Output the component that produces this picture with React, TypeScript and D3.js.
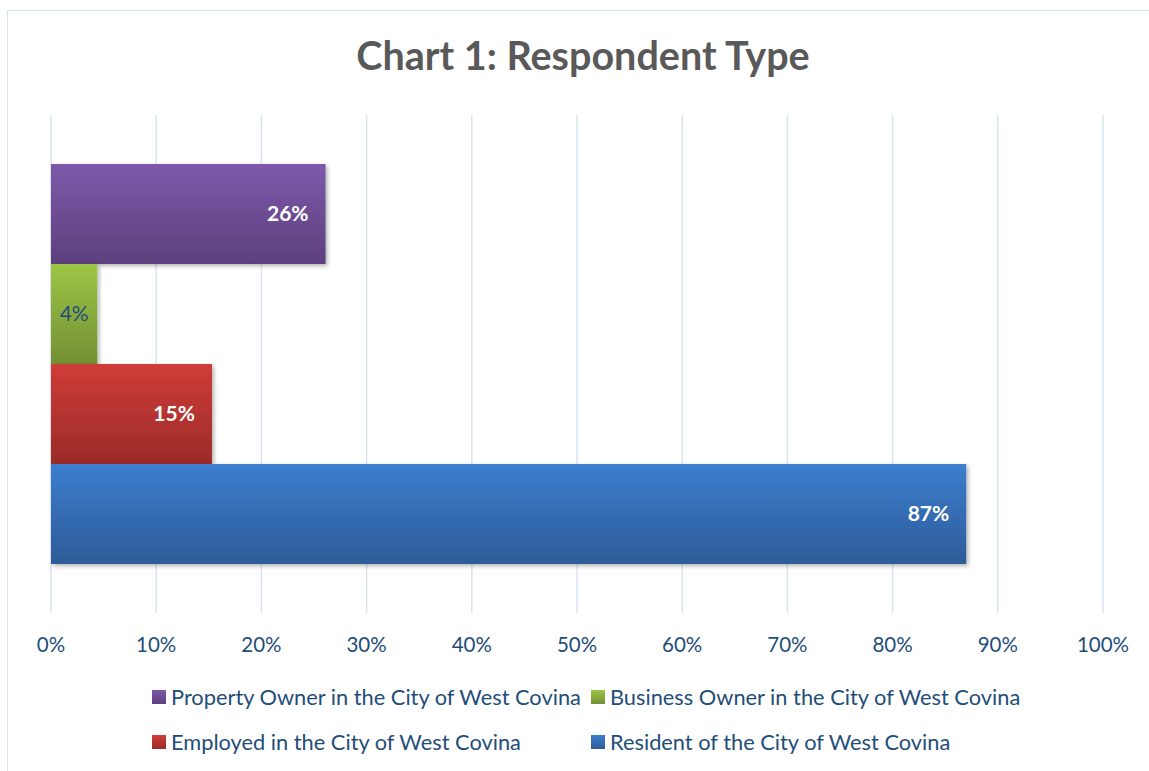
import * as React from "react";
import * as d3 from "d3";

const seriesNames = [
  "Property Owner in the City of West Covina",
  "Business Owner in the City of West Covina",
  "Employed in the City of West Covina",
  "Resident of the City of West Covina",
];
const seriesValues = [26.1, 4.4, 15.3, 87];
const seriesTop = ["#7E59AA", "#9DC646", "#D03C38", "#3C7ECE"];
const seriesBottom = ["#5D407E", "#738F34", "#9A2B28", "#2D5B98"];
const tickValues = [0, 10, 20, 30, 40, 50, 60, 70, 80, 90, 100];

const W = 1149;
const H = 771;
const font = "Lato, 'Open Sans', sans-serif";
const textBlue = "#1F4E79";

const App: React.FC = () => {
  const left = 51;
  const right = 1103;
  const top = 115;
  const bottom = 613;

  const x = d3.scaleLinear().domain([0, 100]).range([left, right]);
  // one category, series clustered inside it
  const group = d3.scaleBand().domain(["all"]).range([top, bottom]).paddingInner(0).paddingOuter(0.1225);
  const y = d3
    .scaleBand()
    .domain(seriesNames)
    .range([group("all")!, group("all")! + group.bandwidth()]);

  return (
    <svg width={W} height={H} style={{ position: "absolute", left: 0, top: 0 }}>
      <defs>
        {seriesNames.map((_, i) => (
          <linearGradient key={i} id={`g${i}`} x1="0" y1="0" x2="0" y2="1">
            <stop offset="0" stopColor={seriesTop[i]} />
            <stop offset="1" stopColor={seriesBottom[i]} />
          </linearGradient>
        ))}
        <filter id="sh" x="-5%" y="-10%" width="115%" height="130%">
          <feDropShadow dx="2" dy="2" stdDeviation="2" floodColor="#000" floodOpacity="0.3" />
        </filter>
      </defs>
      <rect x={0} y={0} width={W} height={H} fill="#fff" />
      <rect x={7.5} y={10.5} width={W + 20} height={H + 20} fill="#fff" stroke="#D6E3F1" strokeWidth={1} />
      <text x={583} y={70} textAnchor="middle" fontFamily={font} fontWeight="bold" fontSize={39.5} fill="#595959">
        Chart 1: Respondent Type
      </text>
      {tickValues.map((t) => (
        <g key={t}>
          <line x1={x(t)} x2={x(t)} y1={top} y2={bottom} stroke="#D9E4F2" strokeWidth={1.5} />
          <text x={x(t)} y={652} textAnchor="middle" fontFamily={font} fontSize={20.5} fill={textBlue}>
            {t}%
          </text>
        </g>
      ))}
      {seriesNames.map((name, i) => {
        const v = seriesValues[i];
        const by = y(name)!;
        const bh = y.bandwidth();
        const bw = x(v) - x(0);
        const small = bw < 60;
        return (
          <g key={name}>
            <rect x={x(0)} y={by} width={bw} height={bh} fill={`url(#g${i})`} filter="url(#sh)" />
            <text
              x={small ? x(0) + bw / 2 : x(v) - 17}
              y={by + bh / 2 + 7}
              textAnchor={small ? "middle" : "end"}
              fontFamily={font}
              fontWeight={small ? "normal" : "bold"}
              fontSize={21}
              fill={small ? textBlue : "#fff"}
            >
              {Math.round(v)}%
            </text>
          </g>
        );
      })}
      {seriesNames.map((name, i) => {
        const col = i % 2;
        const row = Math.floor(i / 2);
        const lx = col === 0 ? 152 : 591;
        const ly = 697 + row * 45;
        return (
          <g key={name}>
            <rect x={lx} y={ly - 7} width={14} height={14} fill={`url(#g${i})`} />
            <text x={lx + 19} y={ly + 8} fontFamily={font} fontSize={21.8} fill={textBlue}>
              {name}
            </text>
          </g>
        );
      })}
    </svg>
  );
};

export default App;
